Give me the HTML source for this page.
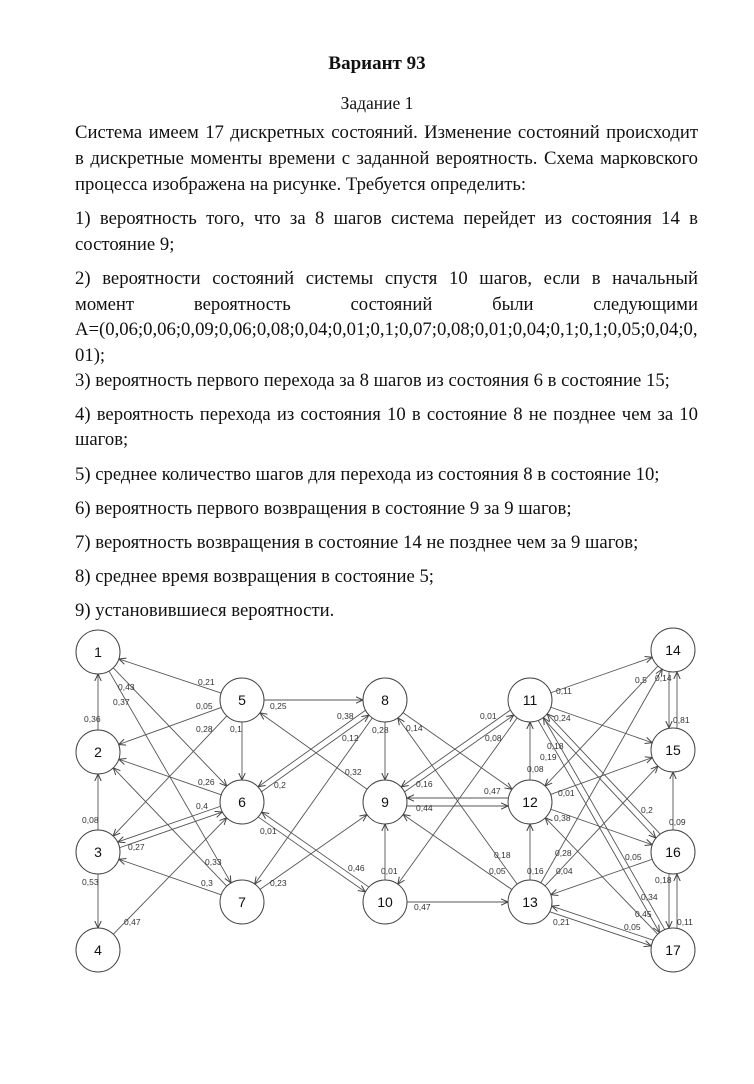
<!DOCTYPE html>
<html><head><meta charset="utf-8">
<style>
body{margin:0;background:#fff;width:754px;height:1084px;position:relative;overflow:hidden;font-family:"Liberation Serif",serif;color:#111}
.l{position:absolute;left:75px;width:623px;font-size:18.7px;line-height:22px;white-space:nowrap;text-align:justify;text-align-last:justify}
.n{text-align-last:left}
.c{position:absolute;left:0;width:754px;text-align:center}
svg{position:absolute;left:0;top:0}
</style></head><body>
<div class="c" style="top:53px;font-size:19px;font-weight:bold">Вариант 93</div>
<div class="c" style="top:93px;font-size:17.5px">Задание 1</div>
<div class="l" style="top:122px">Система имеем 17 дискретных состояний. Изменение состояний происходит</div>
<div class="l" style="top:148px">в дискретные моменты времени с заданной вероятность. Схема марковского</div>
<div class="l n" style="top:174px">процесса изображена на рисунке. Требуется определить:</div>
<div class="l" style="top:208px">1) вероятность того, что за 8 шагов система перейдет из состояния 14 в</div>
<div class="l n" style="top:234px">состояние 9;</div>
<div class="l" style="top:268px">2) вероятности состояний системы спустя 10 шагов, если в начальный</div>
<div class="l" style="top:294px">момент вероятность состояний были следующими</div>
<div class="l" style="top:319px">A=(0,06;0,06;0,09;0,06;0,08;0,04;0,01;0,1;0,07;0,08;0,01;0,04;0,1;0,1;0,05;0,04;0,</div>
<div class="l n" style="top:345px">01);</div>
<div class="l n" style="top:370px">3) вероятность первого перехода за 8 шагов из состояния 6 в состояние 15;</div>
<div class="l" style="top:404px">4) вероятность перехода из состояния 10 в состояние 8 не позднее чем за 10</div>
<div class="l n" style="top:429px">шагов;</div>
<div class="l n" style="top:464px">5) среднее количество шагов для перехода из состояния 8 в состояние 10;</div>
<div class="l n" style="top:498px">6) вероятность первого возвращения в состояние 9 за 9 шагов;</div>
<div class="l n" style="top:532px">7) вероятность возвращения в состояние 14 не позднее чем за 9 шагов;</div>
<div class="l n" style="top:566px">8) среднее время возвращения в состояние 5;</div>
<div class="l n" style="top:600px">9) установившиеся вероятности.</div>
<svg id="g" width="754" height="1084" xmlns="http://www.w3.org/2000/svg">
<defs><marker id="a" markerWidth="8" markerHeight="8" refX="7" refY="4" orient="auto" markerUnits="userSpaceOnUse"><path d="M0,0.8 L7,4 L0,7.2" fill="none" stroke="#444" stroke-width="1"/></marker></defs>
</svg>
<script>
var N={1:[98,652],2:[98,752],3:[98,852],4:[98,950],5:[242,700],6:[242,802],7:[242,902],8:[385,700],9:[385,802],10:[385,902],11:[530,700],12:[530,802],13:[530,902],14:[673,650],15:[673,750],16:[673,852],17:[673,950]};
var R=22;
var E=[[2,1,0],[5,1,0],[1,6,0],[1,7,0],[5,8,0],[5,2,0],[5,3,0],[5,6,0],[6,2,0],[6,3,3],[3,6,3],[3,2,0],[3,4,0],[4,6,0],[7,3,0],[7,2,0],[6,8,3],[8,6,3],[8,7,0],[9,5,0],[8,9,0],[6,10,3],[10,6,3],[7,9,0],[10,9,0],[10,13,0],[8,12,0],[11,9,3],[9,11,3],[11,10,0],[12,9,4],[9,12,4],[13,8,0],[13,9,0],[12,11,0],[13,12,0],[11,14,0],[11,15,0],[12,15,0],[12,16,0],[13,14,0],[14,12,0],[14,15,4],[15,14,4],[11,16,3],[16,11,3],[11,17,3],[17,11,3],[16,15,0],[16,13,0],[16,17,4],[17,16,4],[13,17,3],[17,13,3],[13,15,0],[17,12,0]];
var L=[["0,36",84,722],["0,21",198,685],["0,43",118,690],["0,37",113,705],["0,25",270,709],["0,05",196,709],["0,28",196,732],["0,1",230,732],["0,26",198,785],["0,4",196,809],["0,27",128,850],["0,08",82,823],["0,53",82,885],["0,47",124,925],["0,3",201,886],["0,33",205,865],["0,2",274,788],["0,38",337,719],["0,12",342,741],["0,32",345,775],["0,28",372,733],["0,01",260,834],["0,46",348,871],["0,23",270,886],["0,01",381,874],["0,47",414,910],["0,14",406,731],["0,01",480,719],["0,08",485,741],["0,16",416,787],["0,47",484,794],["0,44",416,811],["0,18",494,858],["0,05",489,874],["0,08",527,772],["0,16",527,874],["0,11",556,694],["0,24",554,721],["0,18",547,749],["0,19",540,760],["0,01",558,796],["0,38",554,821],["0,28",555,856],["0,04",556,874],["0,5",635,683],["0,14",655,681],["0,81",673,723],["0,2",641,813],["0,09",669,825],["0,05",625,860],["0,18",655,883],["0,34",641,900],["0,45",635,917],["0,11",677,925],["0,21",553,925],["0,05",624,930]];
var s=document.getElementById('g'),h='';
E.forEach(function(e){var p=N[e[0]],q=N[e[1]],dx=q[0]-p[0],dy=q[1]-p[1],d=Math.hypot(dx,dy),ux=dx/d,uy=dy/d,o=e[2],ox=-uy*o,oy=ux*o;
var ax=p[0]+ux*R+ox,ay=p[1]+uy*R+oy,bx=q[0]-ux*R+ox,by=q[1]-uy*R+oy;
h+='<line x1="'+ax+'" y1="'+ay+'" x2="'+bx+'" y2="'+by+'" stroke="#555" stroke-width="0.9" marker-end="url(#a)"/>';});
for(var k in N){h+='<circle cx="'+N[k][0]+'" cy="'+N[k][1]+'" r="'+R+'" fill="#fff" stroke="#444" stroke-width="1"/><text x="'+N[k][0]+'" y="'+(N[k][1]+5)+'" text-anchor="middle" font-family="Liberation Sans, sans-serif" font-size="14" fill="#111">'+k+'</text>';}
L.forEach(function(t){h+='<text x="'+t[1]+'" y="'+t[2]+'" font-family="Liberation Sans, sans-serif" font-size="8.5" fill="#333">'+t[0]+'</text>';});
s.insertAdjacentHTML('beforeend',h);
</script>
</body></html>
